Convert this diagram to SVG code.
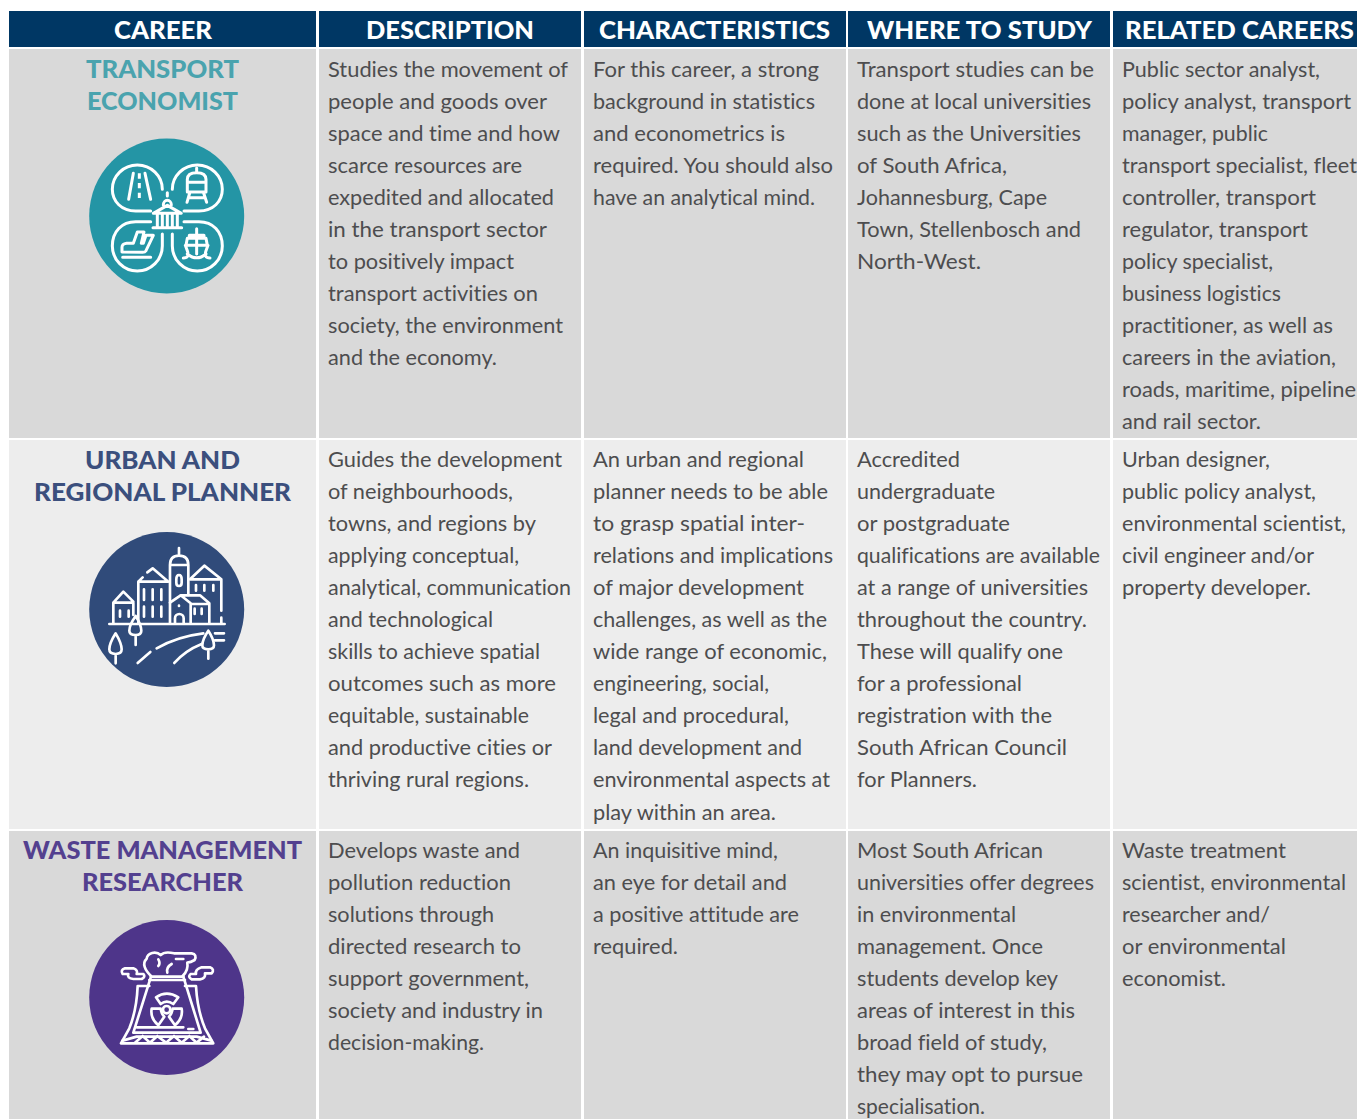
<svg xmlns="http://www.w3.org/2000/svg" width="1357" height="1119" viewBox="0 0 1357 1119">
<style>
text{font-variant-ligatures:none}
.h{font:900 24px Lato,"Liberation Sans",sans-serif;fill:#fff}
.t{font:900 24px Lato,"Liberation Sans",sans-serif}
.b{font:400 22px Lato,"Liberation Sans",sans-serif;fill:#4d4d4f}
.i{fill:none;stroke:#fff;stroke-width:9;stroke-linecap:round;stroke-linejoin:round}
.g{fill:#d9d9d9}.l{fill:#ededed}.n{fill:#003764}
</style>
<rect width="1357" height="1119" fill="#fff"/>
<g id="header">
<rect class="n" x="9" y="11" width="307" height="36"/><rect class="n" x="319" y="11" width="262" height="36"/><rect class="n" x="584" y="11" width="262" height="36"/><rect class="n" x="848" y="11" width="262" height="36"/><rect class="n" x="1113" y="11" width="244" height="36"/>
<text class="h" x="114" y="38.5" textLength="98" lengthAdjust="spacingAndGlyphs">CAREER</text>
<text class="h" x="366" y="38.5" textLength="168" lengthAdjust="spacingAndGlyphs">DESCRIPTION</text>
<text class="h" x="599" y="38.5" textLength="231" lengthAdjust="spacingAndGlyphs">CHARACTERISTICS</text>
<text class="h" x="867" y="38.5" textLength="225" lengthAdjust="spacingAndGlyphs">WHERE TO STUDY</text>
<text class="h" x="1125" y="38.5" textLength="229" lengthAdjust="spacingAndGlyphs">RELATED CAREERS</text>
</g>
<g id="row-transport-economist">
<rect class="g" x="9" y="49" width="307" height="389"/><rect class="g" x="319" y="49" width="262" height="389"/><rect class="g" x="584" y="49" width="262" height="389"/><rect class="g" x="848" y="49" width="262" height="389"/><rect class="g" x="1113" y="49" width="244" height="389"/>
<text class="t" fill="#4aa3ae" x="86" y="78" textLength="153" lengthAdjust="spacingAndGlyphs">TRANSPORT</text>
<text class="t" fill="#4aa3ae" x="87" y="110" textLength="151" lengthAdjust="spacingAndGlyphs">ECONOMIST</text>
<g id="icon-transport">
<circle cx="166.7" cy="216" r="77.5" fill="#2495a5"/>
<g class="i" transform="translate(80 130) scale(.3333)">
<path d="M247 178A75 73 0 0 0 97 178C97 215 125 243 167 243H212"/>
<path d="M277 178A75 73 0 0 1 427 178C427 215 399 243 357 243H312"/>
<path d="M212 275H167C125 275 97 305 97 348A75 75 0 0 0 247 348V312"/>
<path d="M312 275H357C399 275 427 305 427 348A75 75 0 0 1 277 348V312"/>
<path d="M160 130L146 208M195 130L212 208"/>
<path d="M178 130V212" stroke-dasharray="16 13" stroke-linecap="butt"/>
<path d="M322 186V148Q322 128 350 128Q378 128 378 148V186ZM322 157H378M350 114V128M330 186L321 217M370 186L380 217M326 203H375"/>
<path d="M262 188V198M250 225A12 14 0 0 1 274 225M220 250L262 226L304 250ZM232 250V291M262 250V291M292 250V291M247 250V291M277 250V291M219 293H305"/>
<path d="M128 382H212M126 366V352Q126 342 140 340H160L172 306H192L184 340H190L198 316H220L198 362Q195 367 188 367Z"/>
<path d="M350 296V316M328 325V316H372V325M318 346L322 325H378L382 346M318 346H382M350 325V372M310 384Q330 384 322 362L316 346M390 384Q370 384 378 362L384 346M322 372Q350 395 378 372"/>
</g>
</g>
<g class="b">
<text x="328" y="77" textLength="240" lengthAdjust="spacingAndGlyphs">Studies the movement of</text>
<text x="328" y="109" textLength="219" lengthAdjust="spacingAndGlyphs">people and goods over</text>
<text x="328" y="141" textLength="232" lengthAdjust="spacingAndGlyphs">space and time and how</text>
<text x="328" y="173" textLength="194" lengthAdjust="spacingAndGlyphs">scarce resources are</text>
<text x="328" y="205" textLength="226" lengthAdjust="spacingAndGlyphs">expedited and allocated</text>
<text x="328" y="237" textLength="219" lengthAdjust="spacingAndGlyphs">in the transport sector</text>
<text x="328" y="269" textLength="186" lengthAdjust="spacingAndGlyphs">to positively impact</text>
<text x="328" y="301" textLength="210" lengthAdjust="spacingAndGlyphs">transport activities on</text>
<text x="328" y="333" textLength="235" lengthAdjust="spacingAndGlyphs">society, the environment</text>
<text x="328" y="365" textLength="169" lengthAdjust="spacingAndGlyphs">and the economy.</text>
<text x="593" y="77" textLength="226" lengthAdjust="spacingAndGlyphs">For this career, a strong</text>
<text x="593" y="109" textLength="222" lengthAdjust="spacingAndGlyphs">background in statistics</text>
<text x="593" y="141" textLength="192" lengthAdjust="spacingAndGlyphs">and econometrics is</text>
<text x="593" y="173" textLength="240" lengthAdjust="spacingAndGlyphs">required. You should also</text>
<text x="593" y="205" textLength="222" lengthAdjust="spacingAndGlyphs">have an analytical mind.</text>
<text x="857" y="77" textLength="237" lengthAdjust="spacingAndGlyphs">Transport studies can be</text>
<text x="857" y="109" textLength="234" lengthAdjust="spacingAndGlyphs">done at local universities</text>
<text x="857" y="141" textLength="224" lengthAdjust="spacingAndGlyphs">such as the Universities</text>
<text x="857" y="173" textLength="150" lengthAdjust="spacingAndGlyphs">of South Africa,</text>
<text x="857" y="205" textLength="190" lengthAdjust="spacingAndGlyphs">Johannesburg, Cape</text>
<text x="857" y="237" textLength="224" lengthAdjust="spacingAndGlyphs">Town, Stellenbosch and</text>
<text x="857" y="269" textLength="124" lengthAdjust="spacingAndGlyphs">North-West.</text>
<text x="1122" y="77" textLength="198" lengthAdjust="spacingAndGlyphs">Public sector analyst,</text>
<text x="1122" y="109" textLength="229" lengthAdjust="spacingAndGlyphs">policy analyst, transport</text>
<text x="1122" y="141" textLength="146" lengthAdjust="spacingAndGlyphs">manager, public</text>
<text x="1122" y="173" textLength="235" lengthAdjust="spacingAndGlyphs">transport specialist, fleet</text>
<text x="1122" y="205" textLength="194" lengthAdjust="spacingAndGlyphs">controller, transport</text>
<text x="1122" y="237" textLength="186" lengthAdjust="spacingAndGlyphs">regulator, transport</text>
<text x="1122" y="269" textLength="151" lengthAdjust="spacingAndGlyphs">policy specialist,</text>
<text x="1122" y="301" textLength="159" lengthAdjust="spacingAndGlyphs">business logistics</text>
<text x="1122" y="333" textLength="211" lengthAdjust="spacingAndGlyphs">practitioner, as well as</text>
<text x="1122" y="365" textLength="214" lengthAdjust="spacingAndGlyphs">careers in the aviation,</text>
<text x="1122" y="397" textLength="234" lengthAdjust="spacingAndGlyphs">roads, maritime, pipeline</text>
<text x="1122" y="429" textLength="139" lengthAdjust="spacingAndGlyphs">and rail sector.</text>
</g>
</g>
<g id="row-urban-regional-planner">
<rect class="l" x="9" y="440" width="307" height="389"/><rect class="l" x="319" y="440" width="262" height="389"/><rect class="l" x="584" y="440" width="262" height="389"/><rect class="l" x="848" y="440" width="262" height="389"/><rect class="l" x="1113" y="440" width="244" height="389"/>
<text class="t" fill="#3b4f7d" x="85" y="469" textLength="155" lengthAdjust="spacingAndGlyphs">URBAN AND</text>
<text class="t" fill="#3b4f7d" x="34" y="501" textLength="257" lengthAdjust="spacingAndGlyphs">REGIONAL PLANNER</text>
<g id="icon-urban">
<circle cx="166.7" cy="609.5" r="77.5" fill="#304b7a"/>
<g class="i" transform="translate(70 520) scale(.3333)" style="stroke-width:8">
<path d="M118 312H464"/>
<path d="M130 310V248L160 215L190 245M130 248H190V285"/>
<path d="M150 272V290M176 272V290"/>
<path d="M205 310V185H295M205 185L218 172M232 157L248 145L295 185"/>
<path d="M222 208V240M248 208V240M274 208V240M222 260V290M248 260V290M274 260V290"/>
<path d="M300 310V135Q300 107 327 107Q355 107 355 135V225M300 135H355M327 84V107"/>
<path d="M319 178Q319 165 327 165Q335 165 335 178V188Q335 198 327 198Q319 198 319 188Z"/>
<path d="M360 178L403 137L454 178V272M360 178H454M378 195V212M403 195V212M430 195V212"/>
<path d="M300 248L332 226L362 250V310M332 226H390L418 250V310M362 252H418M327 257V258M315 310V295A13 13 0 0 1 341 295V310M374 266V282M395 266V282M454 293V310"/>
<path d="M197 288Q178 315 178 332Q178 345 197 345Q214 345 214 332Q214 315 197 288ZM197 345V375"/>
<path d="M137 340Q118 370 118 388Q118 402 137 402Q155 402 155 388Q155 370 137 340ZM137 402V430"/>
<path d="M415 332Q397 358 397 376Q397 388 415 388Q432 388 432 376Q432 358 415 332ZM415 388V416"/>
<path d="M203 429L241 396M260 385Q320 350 400 340M435 340H462M313 429Q345 392 395 372M435 361H462"/>
</g>
</g>
<g class="b" transform="translate(0 -1)">
<text x="328" y="468" textLength="234" lengthAdjust="spacingAndGlyphs">Guides the development</text>
<text x="328" y="500" textLength="185" lengthAdjust="spacingAndGlyphs">of neighbourhoods,</text>
<text x="328" y="532" textLength="208" lengthAdjust="spacingAndGlyphs">towns, and regions by</text>
<text x="328" y="564" textLength="191" lengthAdjust="spacingAndGlyphs">applying conceptual,</text>
<text x="328" y="596" textLength="243" lengthAdjust="spacingAndGlyphs">analytical, communication</text>
<text x="328" y="628" textLength="165" lengthAdjust="spacingAndGlyphs">and technological</text>
<text x="328" y="660" textLength="212" lengthAdjust="spacingAndGlyphs">skills to achieve spatial</text>
<text x="328" y="692" textLength="228" lengthAdjust="spacingAndGlyphs">outcomes such as more</text>
<text x="328" y="724" textLength="201" lengthAdjust="spacingAndGlyphs">equitable, sustainable</text>
<text x="328" y="756" textLength="224" lengthAdjust="spacingAndGlyphs">and productive cities or</text>
<text x="328" y="788" textLength="201" lengthAdjust="spacingAndGlyphs">thriving rural regions.</text>
<text x="593" y="468" textLength="211" lengthAdjust="spacingAndGlyphs">An urban and regional</text>
<text x="593" y="500" textLength="235" lengthAdjust="spacingAndGlyphs">planner needs to be able</text>
<text x="593" y="532" textLength="212" lengthAdjust="spacingAndGlyphs">to grasp spatial inter-</text>
<text x="593" y="564" textLength="240" lengthAdjust="spacingAndGlyphs">relations and implications</text>
<text x="593" y="596" textLength="211" lengthAdjust="spacingAndGlyphs">of major development</text>
<text x="593" y="628" textLength="234" lengthAdjust="spacingAndGlyphs">challenges, as well as the</text>
<text x="593" y="660" textLength="234" lengthAdjust="spacingAndGlyphs">wide range of economic,</text>
<text x="593" y="692" textLength="176" lengthAdjust="spacingAndGlyphs">engineering, social,</text>
<text x="593" y="724" textLength="196" lengthAdjust="spacingAndGlyphs">legal and procedural,</text>
<text x="593" y="756" textLength="209" lengthAdjust="spacingAndGlyphs">land development and</text>
<text x="593" y="788" textLength="237" lengthAdjust="spacingAndGlyphs">environmental aspects at</text>
<text x="593" y="821" textLength="183" lengthAdjust="spacingAndGlyphs">play within an area.</text>
<text x="857" y="468" textLength="103" lengthAdjust="spacingAndGlyphs">Accredited</text>
<text x="857" y="500" textLength="138" lengthAdjust="spacingAndGlyphs">undergraduate</text>
<text x="857" y="532" textLength="153" lengthAdjust="spacingAndGlyphs">or postgraduate</text>
<text x="857" y="564" textLength="243" lengthAdjust="spacingAndGlyphs">qualifications are available</text>
<text x="857" y="596" textLength="231" lengthAdjust="spacingAndGlyphs">at a range of universities</text>
<text x="857" y="628" textLength="230" lengthAdjust="spacingAndGlyphs">throughout the country.</text>
<text x="857" y="660" textLength="206" lengthAdjust="spacingAndGlyphs">These will qualify one</text>
<text x="857" y="692" textLength="165" lengthAdjust="spacingAndGlyphs">for a professional</text>
<text x="857" y="724" textLength="195" lengthAdjust="spacingAndGlyphs">registration with the</text>
<text x="857" y="756" textLength="210" lengthAdjust="spacingAndGlyphs">South African Council</text>
<text x="857" y="788" textLength="120" lengthAdjust="spacingAndGlyphs">for Planners.</text>
<text x="1122" y="468" textLength="148" lengthAdjust="spacingAndGlyphs">Urban designer,</text>
<text x="1122" y="500" textLength="194" lengthAdjust="spacingAndGlyphs">public policy analyst,</text>
<text x="1122" y="532" textLength="224" lengthAdjust="spacingAndGlyphs">environmental scientist,</text>
<text x="1122" y="564" textLength="192" lengthAdjust="spacingAndGlyphs">civil engineer and/or</text>
<text x="1122" y="596" textLength="189" lengthAdjust="spacingAndGlyphs">property developer.</text>
</g>
</g>
<g id="row-waste-management-researcher">
<rect class="g" x="9" y="831" width="307" height="288"/><rect class="g" x="319" y="831" width="262" height="288"/><rect class="g" x="584" y="831" width="262" height="288"/><rect class="g" x="848" y="831" width="262" height="288"/><rect class="g" x="1113" y="831" width="244" height="288"/>
<text class="t" fill="#53408f" x="23" y="859" textLength="279" lengthAdjust="spacingAndGlyphs">WASTE MANAGEMENT</text>
<text class="t" fill="#53408f" x="82" y="891" textLength="161" lengthAdjust="spacingAndGlyphs">RESEARCHER</text>
<g id="icon-waste">
<circle cx="166.7" cy="997.5" r="77.5" fill="#4e358a"/>
<g class="i" transform="translate(70 910) scale(.3333)" style="stroke-width:8">
<path d="M153 400H430L405 355Q382 300 378 228H345M153 400L178 355Q200 300 203 228H238"/>
<path d="M243 200H340M238 210H345"/>
<path d="M243 200L190 368H392L340 200"/>
<path d="M200 352H340M355 357H370"/>
<path d="M158 392L200 380H380L424 392M195 398L218 378L240 398L262 378L288 398L312 378L335 398L358 378L380 398L402 380"/>
<path d="M243 198C225 180 215 160 230 146C232 128 258 122 272 135C282 125 300 127 312 130H365Q382 133 374 150Q362 157 352 158Q356 180 338 198"/>
<path d="M265 148Q272 160 265 168M318 147H340M305 162Q288 172 292 188"/>
<path d="M190 175H165Q150 180 158 192H175Q170 205 190 207H215Q228 200 220 192H200Q205 180 190 175Z"/>
<path d="M395 172H420Q435 178 425 190H405Q408 205 390 208H365Q352 200 362 192H378Q375 178 395 172Z"/>
<path d="M258 262Q290 240 325 262L310 282Q290 268 272 282Z"/>
<circle cx="290" cy="299" r="11"/>
<path d="M245 296H272Q274 312 283 320L265 346Q240 325 245 296Z"/>
<path d="M335 296H308Q306 312 297 320L315 346Q340 325 335 296Z"/>
</g>
</g>
<g class="b" transform="translate(0 -1)">
<text x="328" y="859" textLength="192" lengthAdjust="spacingAndGlyphs">Develops waste and</text>
<text x="328" y="891" textLength="183" lengthAdjust="spacingAndGlyphs">pollution reduction</text>
<text x="328" y="923" textLength="166" lengthAdjust="spacingAndGlyphs">solutions through</text>
<text x="328" y="955" textLength="193" lengthAdjust="spacingAndGlyphs">directed research to</text>
<text x="328" y="987" textLength="201" lengthAdjust="spacingAndGlyphs">support government,</text>
<text x="328" y="1019" textLength="215" lengthAdjust="spacingAndGlyphs">society and industry in</text>
<text x="328" y="1051" textLength="156" lengthAdjust="spacingAndGlyphs">decision-making.</text>
<text x="593" y="859" textLength="185" lengthAdjust="spacingAndGlyphs">An inquisitive mind,</text>
<text x="593" y="891" textLength="194" lengthAdjust="spacingAndGlyphs">an eye for detail and</text>
<text x="593" y="923" textLength="206" lengthAdjust="spacingAndGlyphs">a positive attitude are</text>
<text x="593" y="955" textLength="85" lengthAdjust="spacingAndGlyphs">required.</text>
<text x="857" y="859" textLength="186" lengthAdjust="spacingAndGlyphs">Most South African</text>
<text x="857" y="891" textLength="237" lengthAdjust="spacingAndGlyphs">universities offer degrees</text>
<text x="857" y="923" textLength="159" lengthAdjust="spacingAndGlyphs">in environmental</text>
<text x="857" y="955" textLength="186" lengthAdjust="spacingAndGlyphs">management. Once</text>
<text x="857" y="987" textLength="201" lengthAdjust="spacingAndGlyphs">students develop key</text>
<text x="857" y="1019" textLength="218" lengthAdjust="spacingAndGlyphs">areas of interest in this</text>
<text x="857" y="1051" textLength="190" lengthAdjust="spacingAndGlyphs">broad field of study,</text>
<text x="857" y="1083" textLength="226" lengthAdjust="spacingAndGlyphs">they may opt to pursue</text>
<text x="857" y="1115" textLength="128" lengthAdjust="spacingAndGlyphs">specialisation.</text>
<text x="1122" y="859" textLength="164" lengthAdjust="spacingAndGlyphs">Waste treatment</text>
<text x="1122" y="891" textLength="224" lengthAdjust="spacingAndGlyphs">scientist, environmental</text>
<text x="1122" y="923" textLength="148" lengthAdjust="spacingAndGlyphs">researcher and/</text>
<text x="1122" y="955" textLength="164" lengthAdjust="spacingAndGlyphs">or environmental</text>
<text x="1122" y="987" textLength="104" lengthAdjust="spacingAndGlyphs">economist.</text>
</g>
</g>
</svg>
